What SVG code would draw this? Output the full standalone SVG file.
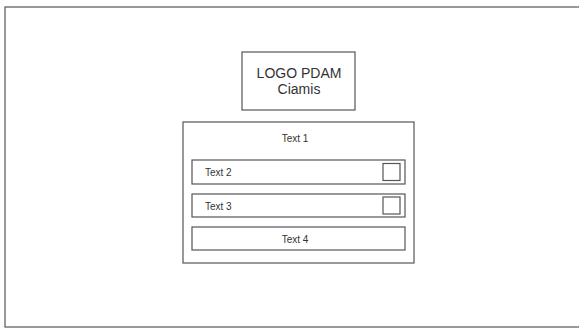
<svg xmlns="http://www.w3.org/2000/svg" width="579" height="330" viewBox="0 0 579 330">
<style>
.box{fill:#fff;stroke:#555;stroke-width:1.2}
.t{font-family:"Liberation Sans",Arial,sans-serif;fill:#333}
.s{font-size:10px}
.l{font-size:14px}
</style>
<rect width="579" height="330" fill="#fff"/>
<g id="frame"><rect class="box" x="5" y="7" width="590" height="320"/></g>
<g id="logo">
<rect class="box" x="242" y="52" width="113" height="58"/>
<text class="t l" x="299" y="78" text-anchor="middle">LOGO PDAM</text>
<text class="t l" x="299" y="94" text-anchor="middle">Ciamis</text>
</g>
<g id="panel">
<rect class="box" x="183" y="122" width="231" height="141"/>
<text class="t s" x="295" y="142" text-anchor="middle">Text 1</text>
</g>
<g id="row2">
<rect class="box" x="192" y="160" width="213" height="24"/>
<text class="t s" x="205" y="176">Text 2</text>
<rect class="box" x="383" y="163.5" width="17" height="17"/>
</g>
<g id="row3">
<rect class="box" x="192" y="194" width="213" height="23"/>
<text class="t s" x="205" y="210">Text 3</text>
<rect class="box" x="383" y="197" width="17" height="17"/>
</g>
<g id="row4">
<rect class="box" x="192" y="227" width="213" height="23"/>
<text class="t s" x="295" y="242.5" text-anchor="middle">Text 4</text>
</g>
<g id="connectors"/>
</svg>
